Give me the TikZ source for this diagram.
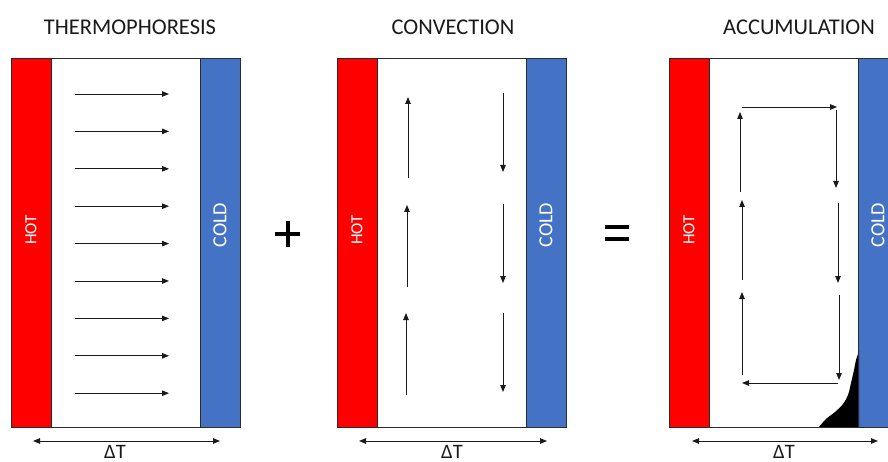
\documentclass[tikz,border=0pt]{standalone}
\usepackage{fontspec}
\setmainfont{Carlito}
\usetikzlibrary{arrows.meta}
\definecolor{hotred}{HTML}{FF0000}
\definecolor{coldblue}{HTML}{4472C4}
\definecolor{edge}{HTML}{2B2B2B}
\definecolor{ink}{HTML}{1A1A1A}

\tikzset{
  tip/.tip={Triangle[length=7pt,width=5.5pt]},
  flow/.style={draw=ink, line width=0.9pt, -tip},
  span/.style={draw=ink, line width=0.9pt, tip-tip},
  wall/.style={draw=edge, line width=1pt},
  heading/.style={anchor=base, text=ink, font=\fontsize{22.5}{27}\selectfont},
  deltalbl/.style={anchor=base, text=ink, inner sep=0pt, font=\fontsize{20.5}{24}\selectfont},
  hotlbl/.style={rotate=90, text=white, font=\fontsize{17}{20}\selectfont},
  coldlbl/.style={rotate=90, text=white, font=\fontsize{20}{24}\selectfont},
  sign/.style={draw=black, line width=4pt}
}

% one cell: hot wall on the left, cold wall on the right
% #1 = left edge, #2 = name suffix
\newcommand{\heatcell}[2]{%
  \begin{scope}[xshift=#1pt]
    \fill[white] (0,59) rectangle (229,427);
    \fill[hotred] (0,59) rectangle (40,427);
    \fill[coldblue] (189,59) rectangle (229,427);
    \draw[wall] (0,59) rectangle (229,427);
    \draw[wall] (40,59) -- (40,427);
    \draw[wall] (189,59) -- (189,427);
    \node[hotlbl] (hot#2) at (20,230) {HOT};
    \node[coldlbl] (cold#2) at (209,225) {COLD};
  \end{scope}}

\begin{document}
\begin{tikzpicture}[x=1pt, y=-1pt]
\useasboundingbox (0,0) rectangle (888,462);
\clip (0,0) rectangle (888,462);
\fill[white] (0,0) rectangle (888,462);

% ---- thermophoresis ----
\node[heading] (t1) at (130,35) {THERMOPHORESIS};
\heatcell{11}{A}
\foreach \k in {0,...,8} {
  \coordinate (pa\k) at (75,94+37.4*\k);
  \coordinate (pb\k) at (169,94+37.4*\k);
  \draw[flow] (pa\k) -- (pb\k);
}
\coordinate (dA1) at (33,441);
\coordinate (dA2) at (220,441);
\draw[span] (dA1) -- (dA2);
\node[deltalbl] (gA) at (115,458) {ΔT};

% plus sign
\coordinate (p1) at (275,234); \coordinate (p2) at (300,234);
\coordinate (p3) at (287.5,221); \coordinate (p4) at (287.5,247);
\draw[sign] (p1) -- (p2);
\draw[sign] (p3) -- (p4);

% ---- convection ----
\node[heading] (t2) at (453,35) {CONVECTION};
\heatcell{337}{B}
\coordinate (u1a) at (408,178); \coordinate (u1b) at (408,97);
\coordinate (u2a) at (407,287); \coordinate (u2b) at (407,205);
\coordinate (u3a) at (406,395); \coordinate (u3b) at (406,313);
\coordinate (d1a) at (503,93);  \coordinate (d1b) at (503,172);
\coordinate (d2a) at (503,204); \coordinate (d2b) at (503,283);
\coordinate (d3a) at (503,313); \coordinate (d3b) at (503,392);
\foreach \n in {u1,u2,u3,d1,d2,d3} \draw[flow] (\n a) -- (\n b);
\coordinate (dB1) at (359,441);
\coordinate (dB2) at (547,441);
\draw[span] (dB1) -- (dB2);
\node[deltalbl] (gB) at (452,458) {ΔT};

% equals sign
\coordinate (e1) at (605,227); \coordinate (e2) at (629,227);
\coordinate (e3) at (605,239); \coordinate (e4) at (629,239);
\draw[sign] (e1) -- (e2);
\draw[sign] (e3) -- (e4);

% ---- accumulation ----
\node[heading] (t3) at (799,35) {ACCUMULATION};
\heatcell{669}{C}
% deposit against the cold wall
\fill[black] plot[smooth, tension=0.6] coordinates {(819,427) (826,419) (835,412) (843,404) (848,395) (851,383) (854,370) (856,360) (859,351)} -- (859,427) -- cycle;
\draw[wall] (669,427) -- (888,427);
\draw[wall] (858,59) -- (858,427);
\coordinate (h1a) at (742,107); \coordinate (h1b) at (837,107);
\coordinate (v1a) at (740,192); \coordinate (v1b) at (740,112);
\coordinate (v2a) at (742,280); \coordinate (v2b) at (742,200);
\coordinate (v3a) at (742,375); \coordinate (v3b) at (742,292);
\coordinate (w1a) at (836,110); \coordinate (w1b) at (836,188);
\coordinate (w2a) at (838,203); \coordinate (w2b) at (838,283);
\coordinate (w3a) at (839,295); \coordinate (w3b) at (839,380);
\coordinate (h2a) at (838,383); \coordinate (h2b) at (742,383);
\foreach \n in {h1,v1,v2,v3,w1,w2,w3,h2} \draw[flow] (\n a) -- (\n b);
\coordinate (dC1) at (692,441);
\coordinate (dC2) at (878,441);
\draw[span] (dC1) -- (dC2);
\node[deltalbl] (gC) at (784,458) {ΔT};
\end{tikzpicture}
\end{document}
